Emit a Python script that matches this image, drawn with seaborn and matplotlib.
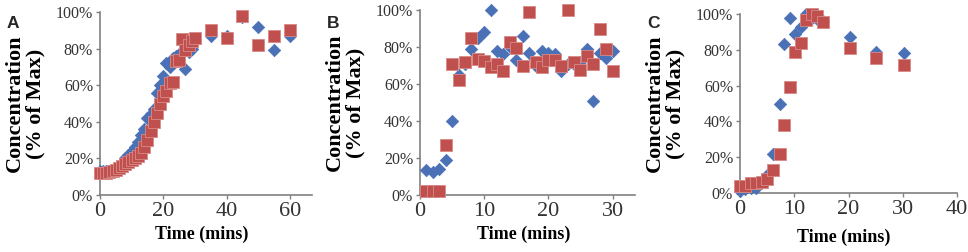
import matplotlib
matplotlib.use("Agg")
import matplotlib.pyplot as plt
import seaborn as sns
import pandas as pd
from matplotlib.ticker import PercentFormatter, MultipleLocator

# ---- data (fraction of max) ----
a_time = list(range(0, 31)) + [35, 40, 45, 50, 55, 60]
a_blue = [0.13, 0.13, 0.13, 0.13, 0.135, 0.14, 0.15, 0.17, 0.20, 0.22, 0.24,
          0.26, 0.29, 0.33, 0.36, 0.42, 0.44, 0.47, 0.56, 0.60, 0.65, 0.72,
          0.70, 0.75, 0.76, 0.77, 0.78, 0.69, 0.78, 0.80, 0.84,
          0.87, 0.87, 0.97, 0.92, 0.79, 0.87]
a_red = [0.12, 0.12, 0.12, 0.125, 0.13, 0.135, 0.145, 0.16, 0.17, 0.18, 0.19,
         0.20, 0.215, 0.23, 0.26, 0.30, 0.35, 0.40, 0.45, 0.50, 0.54, 0.57,
         0.61, 0.62, 0.73, 0.74, 0.85, 0.79, 0.82, 0.84, 0.86,
         0.90, 0.86, 0.98, 0.82, 0.87, 0.90]

b_time = list(range(1, 31))
b_blue = [0.135, 0.126, 0.14, 0.19, 0.40, 0.65, 0.71, 0.79, 0.85, 0.88,
          1.00, 0.78, 0.76, 0.80, 0.73, 0.86, 0.77, 0.70, 0.78, 0.77,
          0.76, 0.67, 0.71, 0.71, 0.72, 0.79, 0.51, 0.77, 0.74, 0.78]
b_red = [0.02, 0.02, 0.02, 0.27, 0.71, 0.62, 0.72, 0.85, 0.735, 0.726,
         0.69, 0.71, 0.67, 0.825, 0.796, 0.70, 0.99, 0.72, 0.69, 0.73,
         0.73, 0.70, 1.00, 0.72, 0.675, 0.75, 0.71, 0.895, 0.79, 0.67]

c_time = [0, 1, 2, 3, 4, 5, 6, 7.3, 8.2, 9.2, 10.1, 11.2, 12.2, 13.2, 14.2,
          15.3, 20.2, 25.1, 30.3]
c_blue = [0.01, 0.02, 0.03, 0.03, 0.06, 0.10, 0.22, 0.50, 0.83, 0.98, 0.89,
          0.93, 1.00, 0.98, 0.97, 0.96, 0.87, 0.79, 0.78]
c_red = [0.037, 0.04, 0.055, 0.055, 0.06, 0.08, 0.126, 0.22, 0.38, 0.59, 0.79,
         0.84, 0.966, 1.00, 0.99, 0.957, 0.81, 0.756, 0.715]

panels = [
    ("A", a_time, a_blue, a_red, 67, 20),
    ("B", b_time, b_blue, b_red, 33.5, 10),
    ("C", c_time, c_blue, c_red, 40, 10),
]

# axes boxes in pixels: left, right, top, bottom
boxes = [(100, 312, 12, 195), (420, 635, 10, 195), (740, 957, 14, 193)]

W, H = 968, 252
BLUE = "#4a70b5"
RED = "#c0504d"
GREY = "#808080"

sns.set_style("ticks")
plt.rcParams["font.family"] = ["Liberation Serif", "DejaVu Serif"]

fig = plt.figure(figsize=(W / 100, H / 100), dpi=100)

for (letter, t, blue, red, xmax, xstep), (l, r, top, bot) in zip(panels, boxes):
    ax = fig.add_axes([l / W, 1 - bot / H, (r - l) / W, (bot - top) / H])
    df = pd.DataFrame({"time": t, "blue": blue, "red": red})
    sns.scatterplot(data=df, x="time", y="blue", marker="D", s=40,
                    color=BLUE, edgecolor=BLUE, linewidth=0.5, ax=ax,
                    clip_on=False, zorder=3)
    sns.scatterplot(data=df, x="time", y="red", marker="s", s=70,
                    color=RED, edgecolor="#d98a88", linewidth=0.6, ax=ax,
                    clip_on=False, zorder=4)

    ax.set_xlim(0, xmax)
    ax.set_ylim(0, 1)
    ax.xaxis.set_major_locator(MultipleLocator(xstep))
    ax.yaxis.set_major_locator(MultipleLocator(0.2))
    ax.yaxis.set_major_formatter(PercentFormatter(1.0, decimals=0))
    ax.tick_params(axis="y", labelsize=11.5, length=3, width=1,
                   color=GREY, labelcolor="#333333", pad=2)
    ax.tick_params(axis="x", labelsize=16, length=3, width=1,
                   color=GREY, labelcolor="#333333", pad=2)
    for side in ["top", "right"]:
        ax.spines[side].set_visible(False)
    for side in ["left", "bottom"]:
        ax.spines[side].set_color(GREY)
        ax.spines[side].set_linewidth(1.2)

    w_px = r - l
    h_px = bot - top
    ax.set_ylabel("Concentration\n(% of Max)", fontsize=16, fontweight="bold",
                  linespacing=1.0, color="black")
    ax.yaxis.set_label_coords(-55 / w_px, 0.5)
    ax.set_xlabel("Time (mins)", fontsize=13, fontweight="bold", color="black")
    xl_off = 31 if letter != "C" else 36
    ax.xaxis.set_label_coords(0.48, -xl_off / h_px)
    ax.xaxis.label.set_va("top")

    fig.text((l - 100 + 7) / W, 1 - 28 / H, letter, fontsize=12.5,
             fontweight="bold", family=["Liberation Sans", "DejaVu Sans"])

fig.savefig("out.png", dpi=100)
